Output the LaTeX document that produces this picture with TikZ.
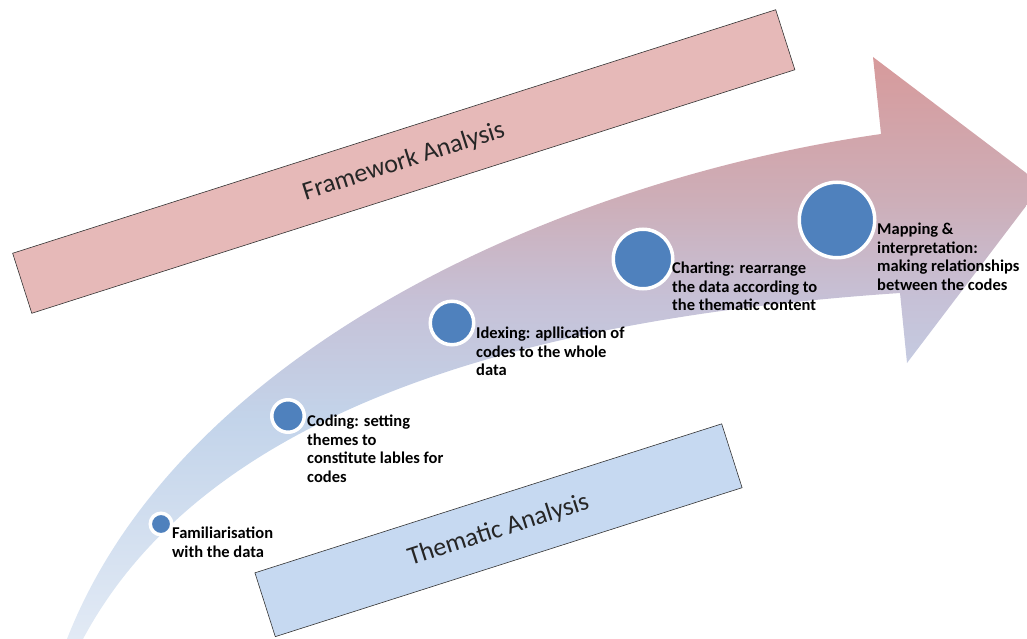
\documentclass[tikz,border=0pt]{standalone}
\usepackage{fontspec}
\setmainfont{Carlito}
\usepackage{xcolor}
\usepackage{tikz}
\usetikzlibrary{positioning}
\definecolor{fwpink}{HTML}{E6B9B8}
\definecolor{thblue}{HTML}{C6D9F1}
\definecolor{dotblue}{HTML}{4F81BD}
\definecolor{headpink}{HTML}{D79A9B}
\definecolor{bandrose}{HTML}{CDAEB8}
\definecolor{bandlilac}{HTML}{C6C1D7}
\definecolor{bandblue}{HTML}{C3D4EA}
\definecolor{tailwhite}{HTML}{E2EAF5}
\pgfdeclareverticalshading{arrowfade}{100bp}{color(0bp)=(tailwhite); color(25bp)=(tailwhite); color(43.8bp)=(bandblue); color(54bp)=(bandlilac); color(62.7bp)=(bandrose); color(75bp)=(headpink); color(100bp)=(headpink)}

\begin{document}
\begin{tikzpicture}[x=1pt, y=-1pt,
    stepdot/.style={circle, fill=dotblue, draw=white, line width=3.5pt, inner sep=0pt},
    steptext/.style={anchor=north west, align=left, inner sep=0pt, font=\bfseries\fontsize{16.5}{18.5}\selectfont},
    anabox/.style={draw=black!80, line width=0.6pt, rotate=17.7, font=\fontsize{26}{30}\selectfont, text=black!85}]
        \useasboundingbox (0,0) rectangle (1027,639);
        \clip (0,0) rectangle (1027,639);

        % Analysis bands
        \node[anabox, fill=fwpink, minimum width=801pt, minimum height=63pt] (fw) at (403.75,161.5) {Framework Analysis};
        \node[anabox, fill=thblue, minimum width=490pt, minimum height=67pt] (th) at (498.5,530.25) {Thematic Analysis};

        % Curved process arrow
        \shade[shading=arrowfade] (67,639) .. controls (180,350) and (560,180) .. (881,134)
            -- (873,57) -- (1042,185) -- (907,363) -- (900,293)
            .. controls (500,320) and (200,420) .. (83,639) -- cycle;

        % Steps
        \node[stepdot, minimum size=21.5pt] (fam) at (161,524) {};
        \node[stepdot, minimum size=32.5pt] (cod) at (288,416) {};
        \node[stepdot, minimum size=43.5pt] (idx) at (452,323) {};
        \node[stepdot, minimum size=59.5pt] (chart) at (643,259) {};
        \node[stepdot, minimum size=75.5pt] (map) at (837,220) {};

        % Step labels
        \node[steptext] (famtxt) at (172,527) {Familiarisation\\with the data};
        \node[steptext] (codtxt) at (307,415) {Coding: setting\\themes to\\constitute lables for\\codes};
        \node[steptext] (idxtxt) at (476,327) {Idexing: apllication of\\codes to the whole\\data};
        \node[steptext] (charttxt) at (672,262) {Charting: rearrange\\the data according to\\the thematic content};
        \node[steptext] (maptxt) at (877,223) {Mapping \&\\interpretation:\\making relationships\\between the codes};
    \end{tikzpicture}
\end{document}
